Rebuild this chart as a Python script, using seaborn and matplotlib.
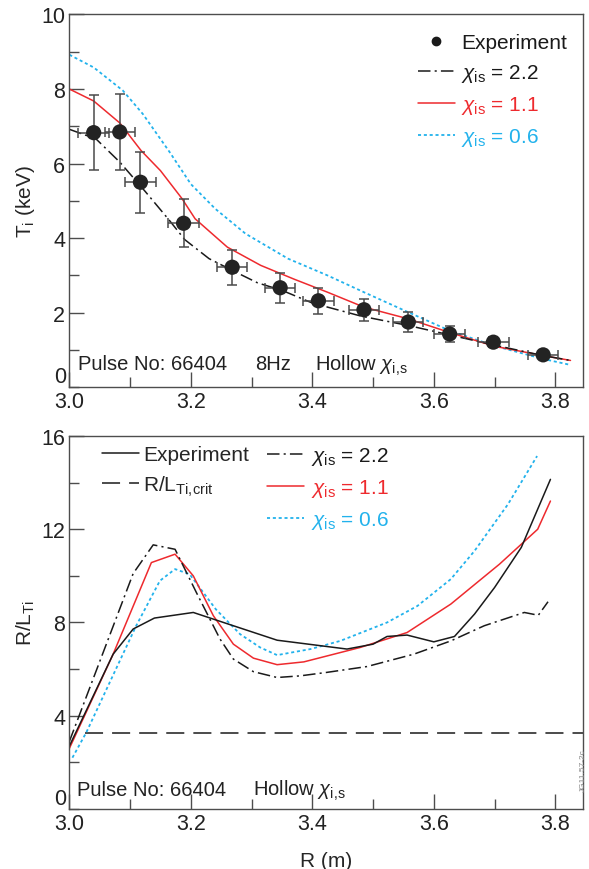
import numpy as np
import pandas as pd
import matplotlib
matplotlib.use("Agg")
import matplotlib.pyplot as plt
from matplotlib.lines import Line2D
from matplotlib.ticker import MultipleLocator
import seaborn as sns

# ---- top panel: Ti profile ----
exp_R = [3.04, 3.083, 3.117, 3.188, 3.268, 3.347, 3.41, 3.485, 3.558, 3.626, 3.698, 3.78]
exp_Ti = [6.83, 6.85, 5.5, 4.4, 3.22, 2.67, 2.32, 2.08, 1.75, 1.43, 1.21, 0.87]
exp_Ti_err = [1.0, 1.03, 0.82, 0.65, 0.47, 0.4, 0.35, 0.3, 0.26, 0.21, 0.14, 0.1]
exp_R_err = [0.025] * 12

ti22_R = [3.00, 3.044, 3.083, 3.125, 3.165, 3.19, 3.23, 3.27, 3.31, 3.35, 3.40, 3.48, 3.56, 3.63, 3.70, 3.78, 3.825]
ti22 = [6.92, 6.66, 6.04, 5.25, 4.47, 3.96, 3.45, 3.12, 2.8, 2.6, 2.26, 1.91, 1.65, 1.39, 1.13, 0.85, 0.72]

ti11_R = [3.00, 3.04, 3.083, 3.118, 3.15, 3.185, 3.207, 3.26, 3.315, 3.37, 3.425, 3.485, 3.557, 3.626, 3.70, 3.78, 3.825]
ti11 = [8.0, 7.68, 7.09, 6.35, 5.81, 5.07, 4.52, 3.76, 3.27, 2.9, 2.55, 2.15, 1.84, 1.47, 1.1, 0.85, 0.72]

ti06_R = [3.00, 3.04, 3.088, 3.121, 3.165, 3.2, 3.24, 3.29, 3.36, 3.425, 3.485, 3.557, 3.626, 3.70, 3.78, 3.825]
ti06 = [8.92, 8.58, 7.96, 7.33, 6.31, 5.45, 4.79, 4.12, 3.45, 3.0, 2.55, 2.02, 1.52, 1.11, 0.76, 0.6]

# ---- bottom panel: R/LTi ----
rl_exp_R = [3.0, 3.072, 3.105, 3.14, 3.204, 3.27, 3.342, 3.457, 3.50, 3.523, 3.556, 3.60, 3.634, 3.667, 3.70, 3.744, 3.792]
rl_exp = [2.7, 6.64, 7.72, 8.19, 8.43, 7.86, 7.24, 6.86, 7.07, 7.4, 7.46, 7.17, 7.4, 8.36, 9.5, 11.22, 14.14]

rl22_R = [3.0, 3.105, 3.138, 3.174, 3.209, 3.248, 3.27, 3.303, 3.342, 3.38, 3.424, 3.49, 3.567, 3.628, 3.683, 3.749, 3.772, 3.788]
rl22 = [2.9, 10.1, 11.33, 11.14, 9.29, 7.29, 6.43, 5.89, 5.64, 5.71, 5.86, 6.11, 6.64, 7.21, 7.86, 8.43, 8.31, 8.89]

rl11_R = [3.0, 3.072, 3.135, 3.174, 3.204, 3.237, 3.27, 3.303, 3.342, 3.386, 3.479, 3.556, 3.628, 3.678, 3.708, 3.771, 3.792]
rl11 = [2.6, 6.64, 10.57, 10.93, 10.0, 8.29, 7.07, 6.47, 6.19, 6.31, 6.93, 7.57, 8.79, 9.86, 10.5, 12.0, 13.21]

rl06_R = [3.005, 3.028, 3.11, 3.149, 3.174, 3.198, 3.241, 3.281, 3.314, 3.342, 3.397, 3.446, 3.523, 3.573, 3.628, 3.667, 3.722, 3.77]
rl06 = [2.2, 3.29, 7.86, 9.79, 10.29, 10.07, 8.57, 7.5, 6.93, 6.6, 6.86, 7.21, 8.0, 8.71, 9.86, 11.07, 13.07, 15.14]

crit_R = [3.025, 3.845]
crit = [3.24, 3.24]

sns.set_style("ticks")
plt.rcParams['font.family'] = ['Liberation Sans', 'DejaVu Sans']
plt.rcParams['mathtext.fontset'] = 'custom'
plt.rcParams['mathtext.rm'] = 'Liberation Sans'
plt.rcParams['mathtext.it'] = 'Liberation Sans:italic'
plt.rcParams['lines.scale_dashes'] = False

BLACK = '#1a1a1a'
RED = '#ee2a2e'
BLUE = '#22b2ec'
SPINE = '#4d4d4d'
DASHDOT = (0, (9, 3, 1.5, 3))
DOTTED = (0, (2.2, 2.0))
DASHED = (0, (13, 6.5))
LW = 1.1

fig = plt.figure(figsize=(5.89, 8.70), dpi=100)
ax1 = fig.add_axes([0.1178, 0.5537, 0.8714, 0.4285])
ax2 = fig.add_axes([0.1178, 0.0690, 0.8714, 0.4287])

# top panel
sns.lineplot(x=ti06_R, y=ti06, ax=ax1, color=BLUE, lw=1.3, linestyle=DOTTED, sort=False, estimator=None)
sns.lineplot(x=ti11_R, y=ti11, ax=ax1, color=RED, lw=LW, sort=False, estimator=None)
sns.lineplot(x=ti22_R, y=ti22, ax=ax1, color=BLACK, lw=LW, linestyle=DASHDOT, sort=False, estimator=None)
ax1.errorbar(exp_R, exp_Ti, yerr=exp_Ti_err, xerr=exp_R_err, fmt='none',
             ecolor='#4a4a4a', elinewidth=1.1, capsize=3.5, capthick=1.1, zorder=3)
sns.scatterplot(x=exp_R, y=exp_Ti, ax=ax1, color='#232323', s=120, edgecolor='none', zorder=4)

ax1.set_xlim(3.0, 3.845)
ax1.set_ylim(0, 10)
ax1.set_yticks([2, 4, 6, 8, 10])
ax1.set_ylabel('T$_{\\rm i}$ (keV)', fontsize=15)
ax1.yaxis.set_label_coords(-0.063, 0.5)

h1 = [Line2D([], [], ls='none', marker='o', color=BLACK, markersize=6),
      Line2D([], [], color=BLACK, lw=LW, ls=DASHDOT),
      Line2D([], [], color=RED, lw=LW),
      Line2D([], [], color=BLUE, lw=1.3, ls=DOTTED)]
l1 = ['Experiment', '$\\chi_{\\rm is}$ = 2.2', '$\\chi_{\\rm is}$ = 1.1', '$\\chi_{\\rm is}$ = 0.6']
leg = ax1.legend(h1, l1, loc='upper right', bbox_to_anchor=(0.969, 0.949), frameon=False,
                 fontsize=15, handlelength=1.75, handletextpad=0.3, labelspacing=0.47,
                 borderpad=0, borderaxespad=0)
for t, c in zip(leg.get_texts(), [BLACK, BLACK, RED, BLUE]):
    t.set_color(c)

ax1.text(3.014, 0.48, 'Pulse No: 66404', fontsize=14.5, va='baseline', color='#222')
ax1.text(3.306, 0.48, '8Hz', fontsize=14.5, va='baseline', color='#222')
ax1.text(3.405, 0.48, 'Hollow $\\chi_{\\rm i,\\!s}$', fontsize=14.5, va='baseline', color='#222')

# bottom panel
sns.lineplot(x=crit_R, y=crit, ax=ax2, color=BLACK, lw=LW, linestyle=DASHED, sort=False, estimator=None)
sns.lineplot(x=rl06_R, y=rl06, ax=ax2, color=BLUE, lw=1.3, linestyle=DOTTED, sort=False, estimator=None)
sns.lineplot(x=rl11_R, y=rl11, ax=ax2, color=RED, lw=LW, sort=False, estimator=None)
sns.lineplot(x=rl22_R, y=rl22, ax=ax2, color=BLACK, lw=LW, linestyle=DASHDOT, sort=False, estimator=None)
sns.lineplot(x=rl_exp_R, y=rl_exp, ax=ax2, color=BLACK, lw=LW, sort=False, estimator=None)

ax2.set_xlim(3.0, 3.845)
ax2.set_ylim(0, 16)
ax2.set_yticks([4, 8, 12, 16])
ax2.yaxis.set_minor_locator(MultipleLocator(2))
ax2.set_ylabel('R/L$_{\\rm Ti}$', fontsize=15)
ax2.yaxis.set_label_coords(-0.063, 0.5)
ax2.set_xlabel('R (m)', fontsize=15, labelpad=12)

ha = [Line2D([], [], color=BLACK, lw=LW), Line2D([], [], color=BLACK, lw=LW, ls=DASHED)]
la = ['Experiment', 'R/L$_{\\rm Ti,\\!crit}$']
lega = ax2.legend(ha, la, loc='upper left', bbox_to_anchor=(0.063, 0.975), frameon=False,
                  fontsize=15, handlelength=1.8, handletextpad=0.2, labelspacing=0.45,
                  borderpad=0, borderaxespad=0)
ax2.add_artist(lega)
hb = [Line2D([], [], color=BLACK, lw=LW, ls=DASHDOT), Line2D([], [], color=RED, lw=LW),
      Line2D([], [], color=BLUE, lw=1.3, ls=DOTTED)]
lb = ['$\\chi_{\\rm is}$ = 2.2', '$\\chi_{\\rm is}$ = 1.1', '$\\chi_{\\rm is}$ = 0.6']
legb = ax2.legend(hb, lb, loc='upper left', bbox_to_anchor=(0.385, 0.975), frameon=False,
                  fontsize=15, handlelength=1.8, handletextpad=0.3, labelspacing=0.47,
                  borderpad=0, borderaxespad=0)
for t, c in zip(legb.get_texts(), [BLACK, RED, BLUE]):
    t.set_color(c)

ax2.text(3.013, 0.61, 'Pulse No: 66404', fontsize=14.5, va='baseline', color='#222')
ax2.text(3.302, 0.61, 'Hollow $\\chi_{\\rm i,\\!s}$', fontsize=14.5, va='baseline', color='#222')

for ax in (ax1, ax2):
    ax.set_xticks([3.0, 3.2, 3.4, 3.6, 3.8])
    ax.set_xticklabels(['3.0', '3.2', '3.4', '3.6', '3.8'])
    ax.xaxis.set_minor_locator(MultipleLocator(0.1))
    if ax is ax1:
        ax.yaxis.set_minor_locator(MultipleLocator(1))
    ax.tick_params(which='both', direction='in', color=SPINE, width=1.0, labelsize=15.5,
                   labelcolor='#222', top=False, right=False)
    ax.tick_params(axis='x', which='both', pad=3)
    ax.tick_params(axis='y', which='both', pad=3)
    ax.tick_params(which='major', length=11)
    ax.tick_params(which='minor', length=7)
    for s in ax.spines.values():
        s.set_color(SPINE)
        s.set_linewidth(1.0)
    # the zero label sits on the axis line, above the x labels
    ax.text(-0.006, 0, '0', transform=ax.get_yaxis_transform(), ha='right', va='bottom',
            fontsize=15.5, color='#222')

fig.text(0.997, 0.114, 'JG11.57-2c', rotation=90, fontsize=6, color='#888', ha='right', va='center')

fig.savefig('out.png', dpi=100)
